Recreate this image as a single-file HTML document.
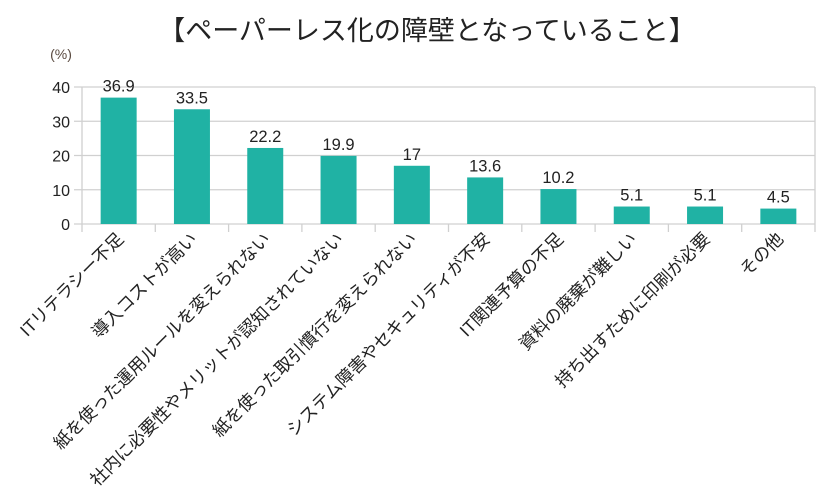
<!DOCTYPE html>
<html><head><meta charset="utf-8"><style>
body{margin:0;background:#fff;}
svg{display:block;font-family:"Liberation Sans","Noto Sans CJK JP",sans-serif;}
</style></head><body>
<svg id="c" width="840" height="500">
<text x="427" y="40" text-anchor="middle" font-size="27" fill="#222">【ペーパーレス化の障壁となっていること】</text>
<text x="61" y="59" text-anchor="middle" font-size="14" fill="#5a4a40">(%)</text>
<g id="grid"></g><g id="bars"></g><g id="labels"></g>
</svg>
<script>
const categories=["ITリテラシー不足","導入コストが高い","紙を使った運用ルールを変えられない","社内に必要性やメリットが認知されていない","紙を使った取引慣行を変えられない","システム障害やセキュリティが不安","IT関連予算の不足","資料の廃棄が難しい","持ち出すために印刷が必要","その他"];
const values=[36.9,33.5,22.2,19.9,17,13.6,10.2,5.1,5.1,4.5];
const valueLabels=["36.9","33.5","22.2","19.9","17","13.6","10.2","5.1","5.1","4.5"];
const yTicks=[0,10,20,30,40];
const NS="http://www.w3.org/2000/svg";
const L=82,R=815,Y0=224,Y40=87;
const y=v=>Y0-(Y0-Y40)*v/40;
const bw=(R-L)/categories.length;
const x=i=>L+bw*(i+0.5);
function mk(t,a,p){const e=document.createElementNS(NS,t);for(const k in a)e.setAttribute(k,a[k]);p.appendChild(e);return e;}
const g=document.getElementById('grid'),b=document.getElementById('bars'),lb=document.getElementById('labels');
yTicks.forEach(t=>{
 const ln=mk('line',{x1:L-8,x2:R,y1:y(t),y2:y(t),stroke:'#d0d0d0','stroke-width':1.3},g);
 
 
 const tx=mk('text',{x:L-12,y:y(t)+6,'text-anchor':'end','font-size':16,fill:'#222'},g);
 tx.textContent=t;
 
 
});
const ax=mk('line',{x1:L,x2:L,y1:Y40,y2:Y0+8,stroke:'#d0d0d0','stroke-width':1.3},g);


const rx=mk('line',{x1:R,x2:R,y1:Y40,y2:Y0+8,stroke:'#d0d0d0','stroke-width':1.3},g);


for(let i=1;i<categories.length;i++){
 const tk=mk('line',{x1:L+bw*i,x2:L+bw*i,y1:Y0,y2:Y0+8,stroke:'#d0d0d0','stroke-width':1.3},g);
 
 
}
values.forEach((v,i)=>{
 const r=mk('rect',{x:x(i)-18,y:y(v),width:36,height:Y0-y(v),fill:'#20b2a4'},b);
 
 
 const t=mk('text',{x:x(i),y:y(v)-6,'text-anchor':'middle','font-size':16.5,fill:'#222'},b);
 t.textContent=valueLabels[i];
 
 
 const c=mk('text',{x:x(i)+6,y:240,'text-anchor':'end','font-size':17.5,fill:'#222',transform:`rotate(-45 ${x(i)+6} 240)`},lb);
 c.textContent=categories[i];
 
 
});
</script>
</body></html>
